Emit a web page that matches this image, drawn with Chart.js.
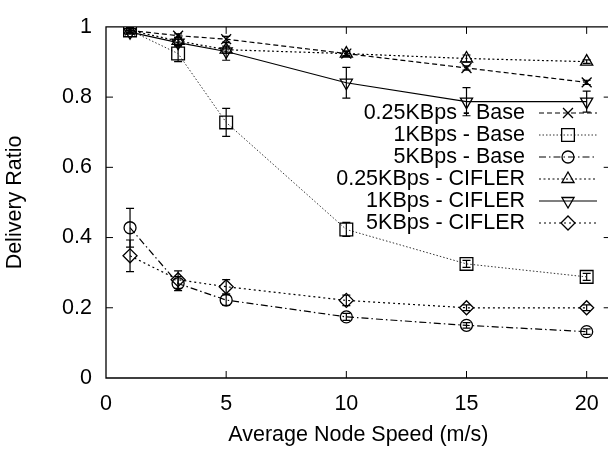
<!DOCTYPE html>
<html>
<head>
<meta charset="utf-8">
<script src="https://cdn.jsdelivr.net/npm/chart.js@4.4.0/dist/chart.umd.min.js"></script>
<style>
    html, body { margin: 0; padding: 0; background: #fff; overflow: hidden; }
    #wrap { width: 621px; height: 449px; position: relative; }
</style>
</head>
<body>
<div id="wrap"><canvas id="grafico"></canvas></div>
<script>
const speeds = [1, 3, 5, 10, 15, 20];
const xTicks = [0, 5, 10, 15, 20];
const yTicks = [0, 0.2, 0.4, 0.6, 0.8, 1];

const seriesNames = [
    '0.25KBps - Base', '1KBps - Base', '5KBps - Base',
    '0.25KBps - CIFLER', '1KBps - CIFLER', '5KBps - CIFLER',
];

const base025 = [0.99, 0.975, 0.965, 0.924, 0.883, 0.842];
const base025Err = [0.005, 0.005, 0.008, 0.006, 0.006, 0.006];
const base1 = [0.99, 0.924, 0.728, 0.423, 0.325, 0.288];
const base1Err = [0.008, 0.023, 0.04, 0.02, 0.01, 0.01];
const base5 = [0.428, 0.269, 0.222, 0.174, 0.15, 0.132];
const base5Err = [0.055, 0.02, 0.015, 0.01, 0.008, 0.008];
const cifler025 = [0.99, 0.96, 0.935, 0.924, 0.91, 0.901];
const cifler025Err = [0.005, 0.01, 0.01, 0.008, 0.01, 0.005];
const cifler1 = [0.985, 0.955, 0.93, 0.841, 0.787, 0.787];
const cifler1Err = [0.005, 0.01, 0.025, 0.044, 0.04, 0.03];
const cifler5 = [0.348, 0.28, 0.26, 0.221, 0.2, 0.2];
const cifler5Err = [0.045, 0.025, 0.02, 0.015, 0.008, 0.008];

const FONTE = 'Liberation Sans, Arial, Helvetica, sans-serif';
const TAM = 21.5;

function serie(idx, valores, erros, estilo) {
    return {
        label: seriesNames[idx],
        data: speeds.map((x, i) => ({ x: x, y: valores[i] })),
        erros: erros,
        borderColor: estilo.cor || '#000',
        borderWidth: estilo.largura || 1.2,
        borderDash: estilo.tracejado,
        pointStyle: estilo.ponto,
        pointRadius: estilo.raio,
        pointRotation: estilo.rotacao || 0,
        pointBorderColor: '#000',
        pointBorderWidth: 1.3,
        pointBackgroundColor: 'rgba(0,0,0,0)',
        fill: false,
        tension: 0,
    };
}

const datasets = [
    serie(0, base025, base025Err, { tracejado: [5, 3], ponto: 'crossRot', raio: 7 }),
    serie(1, base1, base1Err, { tracejado: [1.5, 2], ponto: 'rect', raio: 9, largura: 1, cor: '#333' }),
    serie(2, base5, base5Err, { tracejado: [7, 3, 1.5, 3], ponto: 'circle', raio: 6 }),
    serie(3, cifler025, cifler025Err, { tracejado: [2, 2.5], ponto: 'triangle', raio: 7 }),
    serie(4, cifler1, cifler1Err, { tracejado: [], ponto: 'triangle', raio: 7, rotacao: 180 }),
    serie(5, cifler5, cifler5Err, { tracejado: [2, 3], ponto: 'rectRot', raio: 7 }),
];

// barras de erro (desenhadas antes dos pontos)
const barrasErro = {
    id: 'barrasErro',
    beforeDatasetsDraw(chart) {
        const ctx = chart.ctx;
        const xs = chart.scales.x;
        const ys = chart.scales.y;
        ctx.save();
        ctx.strokeStyle = '#000';
        ctx.lineWidth = 1.2;
        ctx.setLineDash([]);
        chart.data.datasets.forEach((ds) => {
            ds.data.forEach((p, i) => {
                const e = ds.erros[i];
                const x = xs.getPixelForValue(p.x);
                const y1 = ys.getPixelForValue(p.y + e);
                const y2 = ys.getPixelForValue(p.y - e);
                ctx.beginPath();
                ctx.moveTo(x, y1); ctx.lineTo(x, y2);
                ctx.moveTo(x - 4, y1); ctx.lineTo(x + 4, y1);
                ctx.moveTo(x - 4, y2); ctx.lineTo(x + 4, y2);
                ctx.stroke();
            });
        });
        ctx.restore();
    },
};

// moldura e marcas para dentro, no estilo gnuplot
const moldura = {
    id: 'moldura',
    afterDraw(chart) {
        const { ctx, chartArea: a } = chart;
        const xs = chart.scales.x;
        const ys = chart.scales.y;
        ctx.save();
        ctx.strokeStyle = '#000';
        ctx.lineWidth = 1.3;
        ctx.setLineDash([]);
        ctx.beginPath();
        ctx.rect(a.left, a.top, a.right - a.left, a.bottom - a.top);
        ctx.stroke();
        ctx.lineWidth = 1;
        ctx.beginPath();
        xTicks.slice(1).forEach((v) => {
            const x = xs.getPixelForValue(v);
            ctx.moveTo(x, a.bottom); ctx.lineTo(x, a.bottom - 7);
            ctx.moveTo(x, a.top); ctx.lineTo(x, a.top + 7);
        });
        yTicks.slice(1, -1).forEach((v) => {
            const y = ys.getPixelForValue(v);
            ctx.moveTo(a.left, y); ctx.lineTo(a.left + 7, y);
            ctx.moveTo(a.right, y); ctx.lineTo(a.right - 7, y);
        });
        ctx.stroke();
        ctx.restore();
    },
};

// legenda: texto alinhado à direita, amostra da linha à direita
const legenda = {
    id: 'legenda',
    afterDraw(chart) {
        const ctx = chart.ctx;
        ctx.save();
        chart.data.datasets.forEach((ds, i) => {
            const y = 113 + 22 * i;
            ctx.fillStyle = '#000';
            ctx.font = `${TAM}px ${FONTE}`;
            ctx.textAlign = 'right';
            ctx.textBaseline = 'middle';
            ctx.fillText(ds.label, 525, y);
            ctx.strokeStyle = ds.borderColor;
            ctx.lineWidth = ds.borderWidth;
            ctx.setLineDash(ds.borderDash);
            ctx.beginPath();
            ctx.moveTo(539, y); ctx.lineTo(597, y);
            ctx.stroke();
            ctx.setLineDash([]);
            ctx.strokeStyle = '#000';
            ctx.fillStyle = 'rgba(0,0,0,0)';
            ctx.lineWidth = 1.3;
            Chart.helpers.drawPoint(ctx, {
                pointStyle: ds.pointStyle,
                radius: ds.pointRadius,
                rotation: ds.pointRotation,
                borderWidth: 1.3,
            }, 568, y);
        });
        ctx.restore();
    },
};

new Chart(document.getElementById('grafico'), {
    type: 'line',
    data: { datasets: datasets },
    options: {
        responsive: true,
        maintainAspectRatio: false,
        animation: false,
        layout: { padding: { top: 14, right: 0, bottom: 0, left: 0 } },
        plugins: { legend: { display: false }, tooltip: { enabled: false } },
        scales: {
            x: {
                type: 'linear',
                min: 0,
                max: 21,
                grid: { display: false, drawTicks: false },
                border: { display: false },
                afterBuildTicks: (s) => { s.ticks = xTicks.map((v) => ({ value: v })); },
                afterFit: (s) => { s.height = 71; },
                ticks: {
                    color: '#000',
                    padding: 13,
                    maxRotation: 0,
                    font: { family: FONTE, size: TAM },
                    callback: (v) => String(v),
                },
                title: {
                    display: true,
                    text: 'Average Node Speed (m/s)',
                    color: '#000',
                    font: { family: FONTE, size: TAM },
                    padding: { top: 0, bottom: 1 },
                },
            },
            y: {
                min: 0,
                max: 1,
                grid: { display: false, drawTicks: false },
                border: { display: false },
                afterBuildTicks: (s) => { s.ticks = yTicks.map((v) => ({ value: v })); },
                afterFit: (s) => { s.width = 106; },
                ticks: {
                    color: '#000',
                    padding: 14,
                    font: { family: FONTE, size: TAM },
                    callback: (v) => String(Number(v.toFixed(1))),
                },
                title: {
                    display: true,
                    text: 'Delivery Ratio',
                    color: '#000',
                    font: { family: FONTE, size: TAM },
                    padding: { top: 2, bottom: 0 },
                },
            },
        },
    },
    plugins: [barrasErro, moldura, legenda],
});
</script>
</body>
</html>
